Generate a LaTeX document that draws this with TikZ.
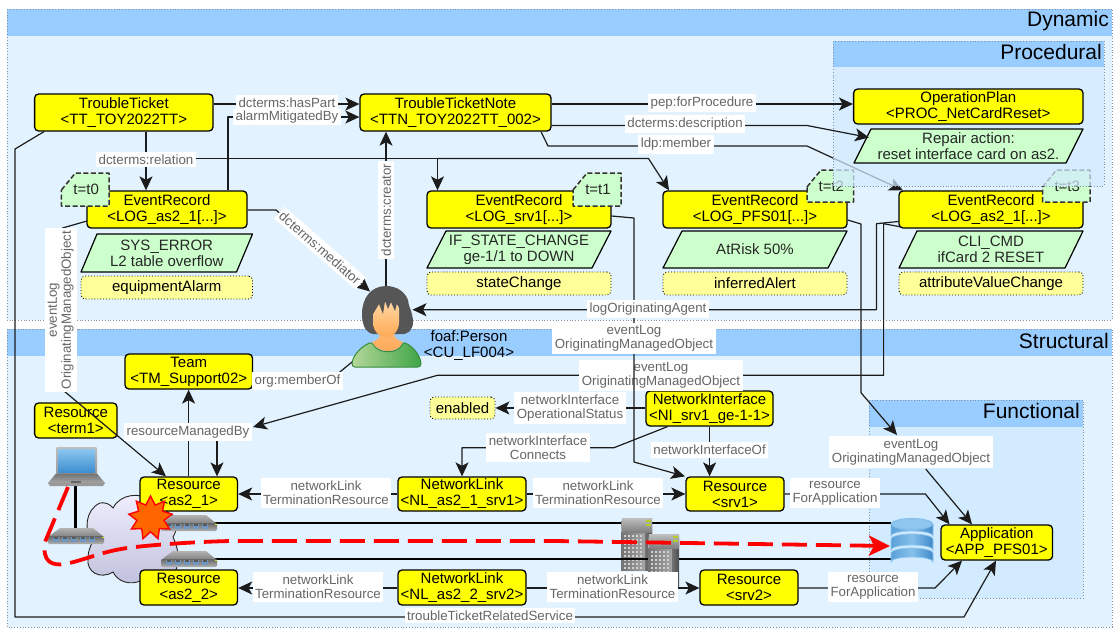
\documentclass[tikz,border=0pt]{standalone}
\usepackage{fontspec}
\setmainfont{Liberation Sans}
\usetikzlibrary{arrows.meta,shapes.geometric,calc}
\definecolor{band}{HTML}{99CCFF}
\definecolor{panelbg}{HTML}{E2F3FF}
\definecolor{procbg}{HTML}{D3EBFF}
\definecolor{edgeline}{HTML}{7F93A8}
\definecolor{ynode}{HTML}{FFFF00}
\definecolor{gnode}{HTML}{CCFFCC}
\definecolor{pnode}{HTML}{FFFF99}
\definecolor{inkline}{HTML}{1C1C1C}
\definecolor{labtext}{HTML}{666666}
\definecolor{dbrim}{HTML}{8FC6EF}
\definecolor{dbleft}{HTML}{5AA0D8}
\definecolor{dbmid}{HTML}{86C0EC}
\definecolor{dbright}{HTML}{3F89C9}
\definecolor{porta}{HTML}{6F97C4}
\definecolor{haircol}{HTML}{565656}
\definecolor{skinlight}{HTML}{FFD9A6}
\definecolor{skindark}{HTML}{FFA955}
\definecolor{bodyl}{HTML}{B4D798}
\definecolor{bodyr}{HTML}{3FA548}
\definecolor{screenl}{HTML}{8CC6F0}
\definecolor{screend}{HTML}{3F8FD0}
\tikzset{
  panelborder/.style={draw=edgeline,line width=.8pt,dotted},
  yn/.style={draw=black,fill=ynode,rounded corners=4pt,line width=1.3pt,inner sep=0pt,align=center,font=\fontsize{15}{16}\selectfont},
  pn/.style={draw=black,fill=pnode,rounded corners=4pt,line width=.9pt,dotted,inner sep=0pt,align=center,font=\fontsize{15}{16}\selectfont},
  gn/.style={draw=black,fill=gnode,line width=1.2pt,line join=round},
  txt/.style={inner sep=0pt,align=center,font=\fontsize{15}{16}\selectfont,text=black!85},
  lab/.style={fill=white,text=labtext,align=center,font=\fontsize{13.3}{14}\selectfont,inner xsep=2.5pt,inner ysep=3pt},
  conn/.style={draw=inkline,line width=1.2pt,line join=round},
  arr/.style={conn,-{Stealth[length=14pt,width=13pt,inset=3.5pt]}},
  ttl/.style={inner sep=0pt,anchor=east,font=\fontsize{21}{22}\selectfont,text=black},
  switchpic/.pic={
    \shade[top color=black!30,bottom color=black!50] (-16,-8) -- (17,-8) -- (28,1) -- (-28,1) -- cycle;
    \shade[top color=black!60,bottom color=black!30,rounded corners=1.5pt] (-28,0) rectangle (28,8);
    \foreach \i in {-20,-11,-2,7,16} {\fill[porta] (\i-3.2,1) rectangle (\i+3.2,5.5); \fill[black!65] (\i-2.2,1) rectangle (\i+2.2,3.4);}
    \fill[yellow!80!green] (26.2,.5) rectangle (27.6,2);
  },
  serverpic/.pic={
    \shade[left color=black!55,right color=black!35] (0,3) rectangle (24,52);
    \shade[left color=black!55,right color=black!70] (24,3) rectangle (31,52);
    \fill[black!30] (1,0) -- (31,0) -- (31,14) -- (0,14) -- cycle;
    \shade[top color=black!25,bottom color=black!50] (1,0) rectangle (31,14);
    \foreach \ii in {2.5,6.5,...,21} \foreach \jj in {17,21,...,49} \fill[black!18] (\ii,\jj) rectangle (\ii+2.4,\jj+2.4);
    \fill[yellow!75!green!90!black] (25,2) rectangle (30,4);
    \fill[yellow!75!green!90!black] (25,5.5) rectangle (30,7.5);
  },
}
\newcommand{\mybox}[7][yn]{%
  \pgfmathsetmacro\bw{#5-#3}\pgfmathsetmacro\bh{#6-#4}%
  \node[#1,minimum width=\bw pt,minimum height=\bh pt] (#2) at ({(#3+#5)/2},{(#4+#6)/2}) {#7};}
\newcommand{\mypara}[7]{%
  \draw[gn] ({#2+#6},#4) -- (#3,#4) -- ({#3-#6},#5) -- (#2,#5) -- cycle;
  \node[txt] (#1) at ({(#2+#3)/2},{(#4+#5)/2}) {#7};}
\newcommand{\mytag}[6]{%
  \draw[gn,dashed,line width=1.5pt,dash pattern=on 5pt off 2.5pt,draw=black!80] (#2,{#3+17}) -- ({#2+14},#3) -- (#4,#3) -- (#4,#5) -- (#2,#5) -- cycle;
  \node[txt] (#1) at ({(#2+#4)/2+1},{(#3+#5)/2}) {#6};}
\begin{document}
\begin{tikzpicture}[x=1pt,y=-1pt]
\useasboundingbox (0,0) rectangle (1115,630);
\fill[white] (0,0) rectangle (1115,630);
% panels
\fill[panelbg] (7,9) rectangle (1112,320);
\fill[band] (7,9) rectangle (1112,36);
\draw[panelborder] (7,9) rectangle (1112,320);
\node[ttl] (dyn) at (1109,21) {Dynamic};
\fill[panelbg] (7,329) rectangle (1112,627);
\fill[band] (7,329) rectangle (1112,356);
\draw[panelborder] (7,329) rectangle (1112,627);
\node[ttl] (str) at (1109,341) {Structural};
\fill[procbg] (869,400) rectangle (1083,598);
\fill[band] (869,400) rectangle (1083,427);
\draw[panelborder] (869,400) rectangle (1083,598);
\node[ttl] (fun) at (1080,411) {Functional};
% network scene
\shade[draw=black!85,line width=.9pt,top color=blue!6!white,bottom color=blue!45!black!25!white]
  (113,508) .. controls (120,494) and (140,492) .. (150,500) -- (172,515) .. controls (180,520) and (177,530) .. (173,537) .. controls (179,550) and (180,562) .. (175,572) -- (143,580) .. controls (130,586) and (118,582) .. (113,572) .. controls (100,580) and (86,572) .. (88,558) .. controls (88,552) and (90,547) .. (92,543) .. controls (84,530) and (85,510) .. (100,503) .. controls (105,502) and (110,504) .. (113,508) -- cycle;
\draw[black,line width=2.3pt] (75.5,486) -- (75.5,528);
\draw[black,line width=2.3pt] (215,523) -- (891,523);
\pic at (621,518) {serverpic};
\draw[black,line width=2.3pt] (215,559) -- (891,559);
\pic at (648,534) {serverpic};
\pic at (76,536) {switchpic};
\pic at (189,523) {switchpic};
\pic at (189,559) {switchpic};
% laptop
\shade[top color=black!25,bottom color=black!40,rounded corners=1pt] (56,447) rectangle (97,474);
\shade[top color=screenl,bottom color=screend] (58,449) rectangle (95,472);
\shade[top color=black!55,bottom color=black!35] (56,473.5) -- (97,473.5) -- (105,483) -- (48,483) -- cycle;
\fill[black!40] (48,483) -- (105,483) -- (103,486) -- (50,486) -- cycle;
\fill[black!60] (71,480.5) rectangle (81,483);
% database
\foreach \yy/\hh in {553/9,539/11,524/12}{
  \shade[left color=dbleft,right color=dbright,middle color=dbmid,draw=dbrim,line width=.8pt] (891,\yy) arc[start angle=180,end angle=360,x radius=21,y radius=5] -- (933,{\yy+\hh}) arc[start angle=360,end angle=180,x radius=21,y radius=5] -- cycle;
}
\fill[dbmid] (912,524) ellipse[x radius=21,y radius=6];
\fill[dbrim] (912,524) ellipse[x radius=19,y radius=4.6];
% nodes
\mybox{TT}{34.6}{94}{213}{131}{TroubleTicket\\<TT\_TOY2022TT>}
\mybox{TTN}{360}{94}{551}{131}{TroubleTicketNote\\<TTN\_TOY2022TT\_002>}
\mybox{ERa}{87}{191}{247}{228}{EventRecord\\<LOG\_as2\_1[...]>}
\mybox{ERb}{427}{191}{611}{228}{EventRecord\\<LOG\_srv1[...]>}
\mybox{ERc}{663}{191}{847}{228}{EventRecord\\<LOG\_PFS01[...]>}
\mybox{ERd}{899}{191}{1083}{228}{EventRecord\\<LOG\_as2\_1[...]>}
\mypara{pa}{81}{252.5}{234}{272}{16}{SYS\_ERROR\\L2 table overflow}
\mypara{pb}{427}{611}{231}{268}{19}{IF\_STATE\_CHANGE\\ge-1/1 to DOWN}
\mypara{pc}{663}{847}{231}{268}{19}{AtRisk 50\%}
\mypara{pd}{899}{1083}{231}{268}{18}{CLI\_CMD\\ifCard 2 RESET}
\mybox[pn]{qa}{81}{276}{252.5}{299}{equipmentAlarm}
\mybox[pn]{qb}{427}{272}{611}{295}{stateChange}
\mybox[pn]{qc}{663}{272}{847}{295}{inferredAlert}
\mybox[pn]{qd}{899}{272}{1083}{295}{attributeValueChange}
\mytag{ta}{61.4}{173}{109}{206}{t=t0}
\mytag{tb}{573}{173}{621}{206}{t=t1}
\mytag{tc}{807}{170}{853.6}{202}{t=t2}
\mytag{td}{1042.5}{170}{1090}{202}{t=t3}
% member edge runs under the translucent Procedural panel
\draw[arr] (541,0 |- TTN.south) -- (548,146) -- (807,146) -- (903,0 |- ERd.north);
% Procedural panel
\fill[procbg,opacity=.72] (833,67) rectangle (1104,186);
\fill[band] (833,41) rectangle (1104,67);
\draw[panelborder] (833,41) rectangle (1104,186);
\node[ttl] (pro) at (1102,52) {Procedural};
\mybox{OP}{853.6}{89}{1083}{124}{OperationPlan\\<PROC\_NetCardReset>}
\mypara{rep}{854}{1083}{129}{163}{17}{Repair action:\\reset interface card on as2.}
% lower nodes
\mybox{Team}{125}{354}{252.5}{389}{Team\\<TM\_Support02>}
\mybox{term}{34.6}{403}{117}{438}{Resource\\<term1>}
\mybox{asa}{140}{477}{237.5}{511}{Resource\\<as2\_1>}
\mybox{asb}{140}{570}{237.5}{605}{Resource\\<as2\_2>}
\mybox{NLa}{398}{477}{526}{511}{NetworkLink\\<NL\_as2\_1\_srv1>}
\mybox{NLb}{398}{570}{526}{605}{NetworkLink\\<NL\_as2\_2\_srv2>}
\mybox{NI}{646}{391}{773}{426}{NetworkInterface\\<NI\_srv1\_ge-1-1>}
\mybox{srva}{686}{477}{784}{511}{Resource\\<srv1>}
\mybox{srvb}{700}{570}{798}{605}{Resource\\<srv2>}
\mybox{APP}{941}{525}{1052.5}{560}{Application\\<APP\_PFS01>}
\mybox[pn]{en}{430}{397}{495}{419}{enabled}
% person
\node[minimum width=69pt,minimum height=81pt,inner sep=0pt] (person) at (386.5,326.5) {};
\fill[haircol] (386,286) .. controls (371,286) and (362,298) .. (362,314) .. controls (362,328) and (368,335) .. (376,334) -- (400,334) .. controls (408,335) and (413,330) .. (413,322) .. controls (413,312) and (408,306) .. (408,300) .. controls (405,292) and (397,286) .. (386,286) -- cycle;
\shade[left color=bodyl,right color=bodyr,draw=bodyr!85!black,line width=1pt,rounded corners=3pt] (352,367) .. controls (352,357) and (360,347) .. (372,342) .. controls (378,354) and (398,354) .. (403,342) .. controls (414,347) and (421,357) .. (421,367) -- cycle;
\shade[top color=skindark!85!white,bottom color=skindark] (372,342) .. controls (378,340) and (380,338) .. (380,333) -- (394,333) .. controls (394,338) and (397,340) .. (403,342) .. controls (398,354) and (378,354) .. (372,342) -- cycle;
\shade[top color=skinlight,bottom color=skindark] (373,308) .. controls (373,300) and (399,300) .. (399,308) -- (399,322) .. controls (399,332) and (392,337) .. (386,337) .. controls (380,337) and (373,332) .. (373,322) -- cycle;
\fill[haircol] (371,298) -- (402,298) -- (401,312) -- (397,303) -- (395,311) -- (391,302) -- (388,309) -- (385,301) -- (383,314) -- (379,304) -- (373,314) -- cycle;
\node[txt,text=black] (pl) at (469,345.5) {foaf:Person\\<CU\_LF004>};
% connectors
\draw[arr] (TT.east |- 0,104) -- (TTN.west |- 0,104);
\draw[arr] (228,0 |- ERa.north) -- (228,117) -- (TTN.west |- 0,117);
\draw[arr] (146,0 |- TT.south) -- (146,0 |- ERa.north);
\draw[arr] (146,158.5) -- (437.5,158.5) -- (437.5,0 |- ERb.north);
\draw[arr] (437.5,158.5) -- (648.5,158.5) -- (669,0 |- ERc.north);
\draw[arr] (TTN.east |- 0,104) -- (OP.west |- 0,104);
\draw[arr] (TTN.east |- 0,125.5) -- (807,125.5) -- (869,137.5);
\draw[arr] (44,0 |- TT.south) -- (15,149) -- (15,617) -- (964,617) -- (996,0 |- APP.south);
\draw[arr] (ERa.east |- 0,210) -- (276,210) -- (370,291.5);
\draw[arr] (386,0 |- person.north) -- (386,0 |- TTN.south);
\draw[conn] (87,221) -- (62.5,228) -- (62.5,310);
\draw[arr] (64,391) -- (166,0 |- asa.north);
\draw[arr] (901.4,227) -- (883.6,223.7) -- (883.6,375.3) -- (437.5,375.3) -- (253,427);
\node[lab] (lErd) at (661,375.5) {eventLog\\OriginatingManagedObject};
\draw[arr] (ERb.east |- 0,216) -- (634,218) -- (634,462) -- (685,0 |- asa.north);
\draw[arr] (ERd.west |- 0,221.5) -- (876.4,223.7) -- (876.4,309.7) -- (412.5,309.7);
\draw[arr] (ERc.east |- 0,220) -- (861,224) -- (861,392.7) -- (897,435);
\draw[arr] (925.7,469) -- (972,0 |- APP.north);
\draw[arr] (188.6,0 |- asa.north) -- (188.6,0 |- Team.south);
\draw[arr] (217,432) -- (217,0 |- asa.north);
\draw[conn] (352,362) -- (339,372.7) -- (Team.east |- 0,381);
\draw[arr] (NI.west |- 0,408) -- (en.east |- 0,408);
\draw[arr] (667.5,0 |- NI.south) -- (614,447.7) -- (462,447.7) -- (462,0 |- NLa.north);
\draw[arr] (709.6,0 |- NI.south) -- (709.6,0 |- srva.north);
\draw[arr] (NLa.west |- 0,494) -- (asa.east |- 0,494);
\draw[arr] (NLa.east |- 0,494) -- (srva.west |- 0,494);
\draw[arr] (NLb.west |- 0,588) -- (asb.east |- 0,588);
\draw[arr] (NLb.east |- 0,588) -- (srvb.west |- 0,588);
\draw[arr] (srva.east |- 0,494) -- (925.4,494) -- (949.6,0 |- APP.north);
\draw[arr] (srvb.east |- 0,588) -- (935,588) -- (962,0 |- APP.south);
% labels
\node[lab] (l1) at (287,103) {dcterms:hasPart};
\node[lab,inner ysep=1.5pt] (l2) at (287,117) {alarmMitigatedBy};
\node[lab] (l3) at (146,159.5) {dcterms:relation};
\node[lab] (l4) at (702,103) {pep:forProcedure};
\node[lab] (l5) at (685,124) {dcterms:description};
\node[lab] (l6) at (676,144.5) {ldp:member};
\node[lab,rotate=-41] (l7) at (320,248) {dcterms:mediator};
\node[lab,rotate=90] (l8) at (386,210) {dcterms:creator};
\node[lab,rotate=90] (l9) at (60.7,310) {eventLog\\OriginatingManagedObject};
\node[lab] (l10) at (648,309) {logOriginatingAgent};
\node[lab] (l11) at (634,338.5) {eventLog\\OriginatingManagedObject};
\node[lab] (l12) at (911,452) {eventLog\\OriginatingManagedObject};
\node[lab] (l13) at (297.5,381) {org:memberOf};
\node[lab] (l14) at (188,432) {resourceManagedBy};
\node[lab] (l15) at (570,408) {networkInterface\\OperationalStatus};
\node[lab] (l16) at (538,447.5) {networkInterface\\Connects};
\node[lab] (l17) at (709.6,450) {networkInterfaceOf};
\node[lab] (l18) at (326,493) {networkLink\\TerminationResource};
\node[lab] (l19) at (598,493) {networkLink\\TerminationResource};
\node[lab] (l20) at (318,587) {networkLink\\TerminationResource};
\node[lab] (l21) at (612.5,587) {networkLink\\TerminationResource};
\node[lab] (l22) at (835,493) {resource\\ForApplication};
\node[lab] (l23) at (873,587) {resource\\ForApplication};
\node[lab] (l24) at (490,615.5) {troubleTicketRelatedService};
% star and failure path
\node[star,star points=9,star point ratio=1.6,minimum size=44pt,inner sep=0pt,draw=red,line width=1.4pt,fill=orange!80!red] (fail) at (150.5,518) {};
\draw[red,line width=3.8pt,dash pattern=on 25pt off 9pt,-{Stealth[length=21pt,width=20pt,inset=5pt]}] (68,487) -- (45,542) .. controls (42,562) and (52,566) .. (65,564) .. controls (85,560) and (100,552) .. (127,548) .. controls (150,545) and (190,542) .. (230,541) -- (555,541) -- (890,546);
\end{tikzpicture}
\end{document}
